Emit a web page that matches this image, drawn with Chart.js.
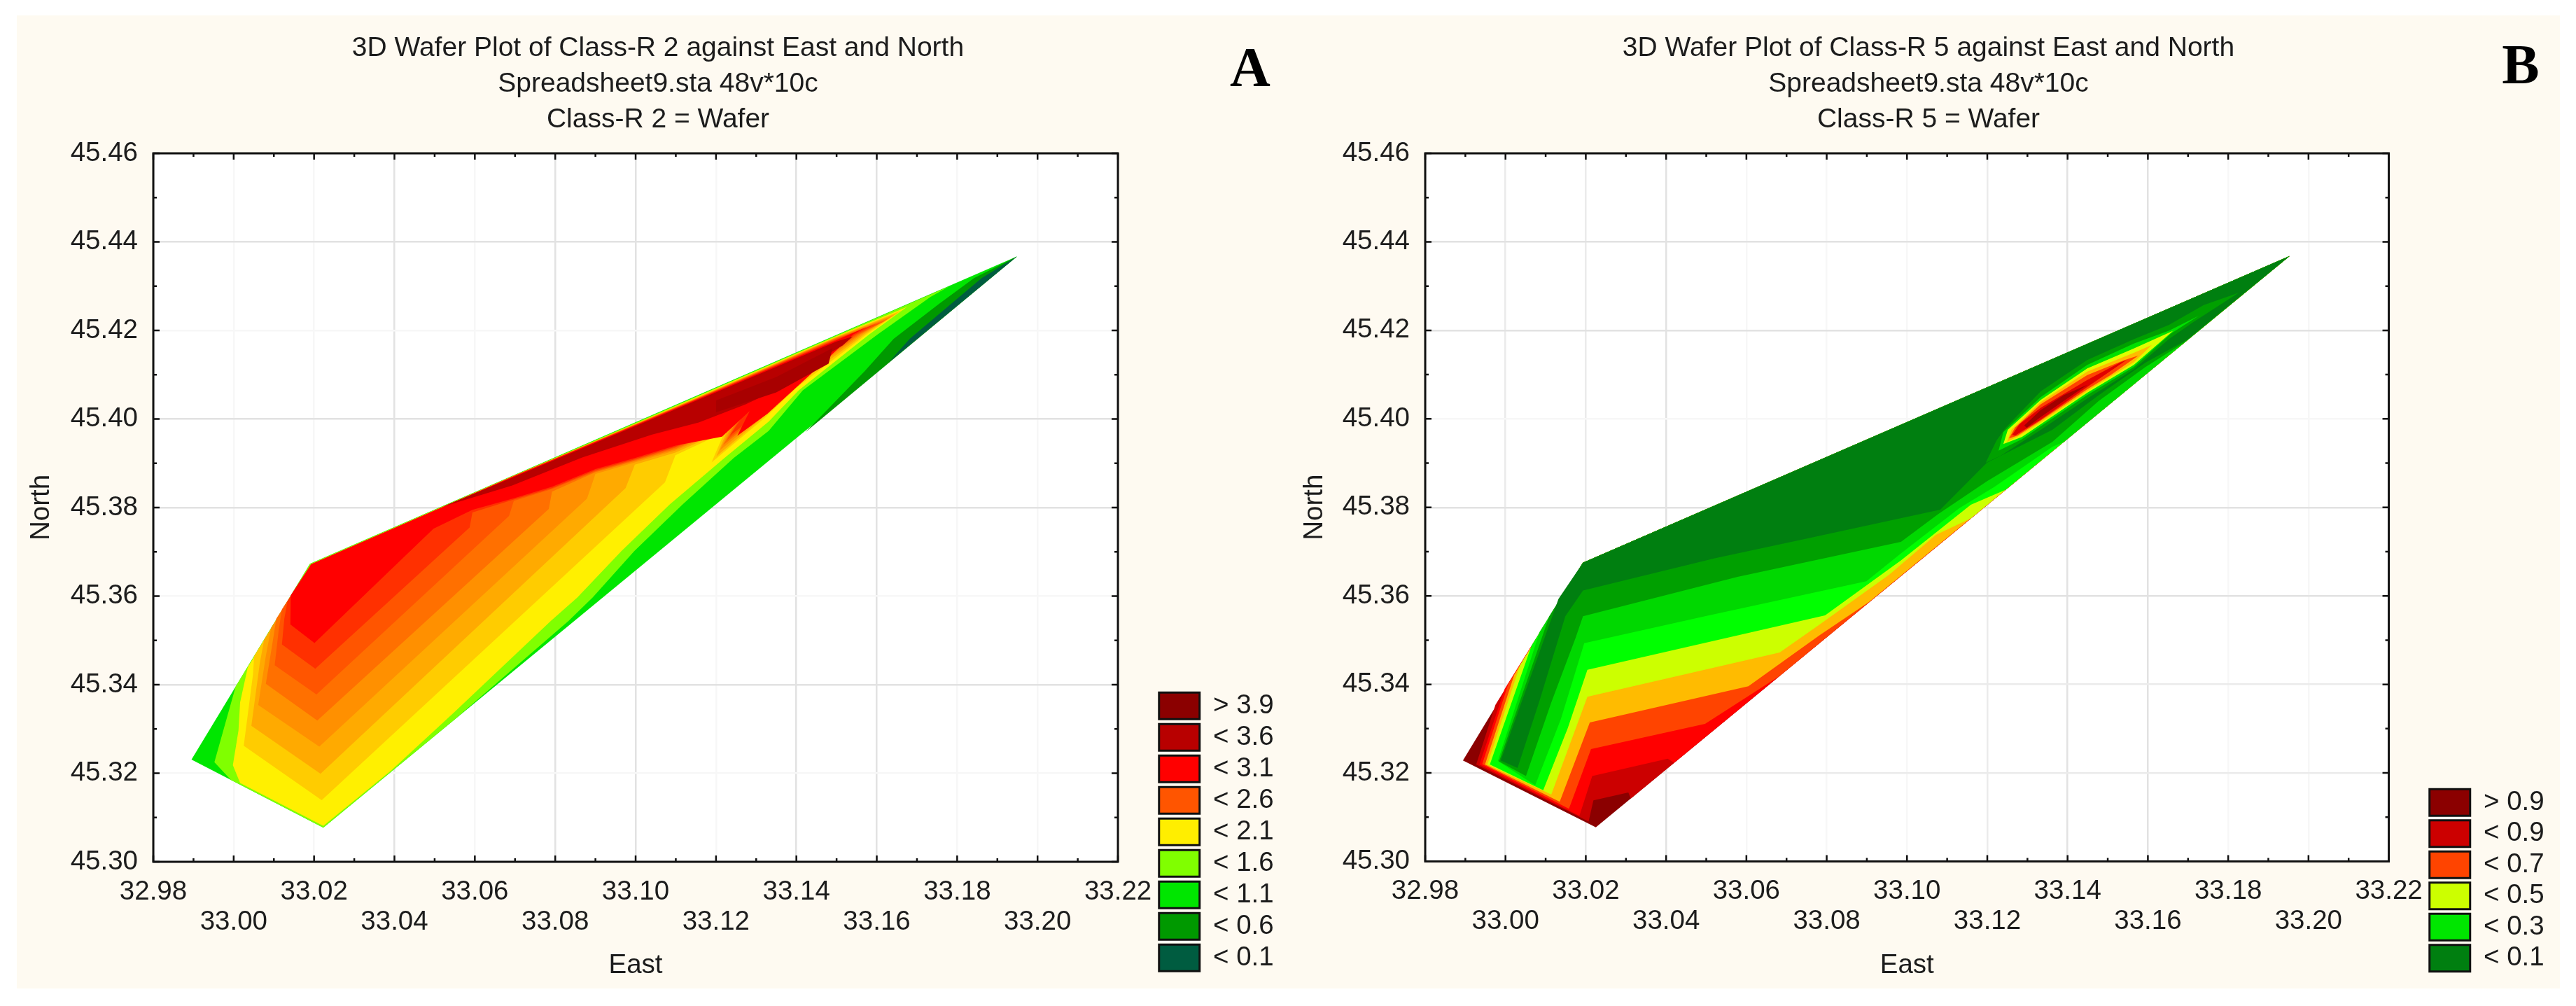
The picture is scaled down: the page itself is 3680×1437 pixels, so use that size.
<!DOCTYPE html>
<html><head><meta charset="utf-8">
<script src="https://cdn.jsdelivr.net/npm/chart.js@4"></script>
<style>
html,body{margin:0;padding:0;background:#fff;overflow:hidden;width:3680px;height:1437px}
#panel{position:absolute;left:24px;top:22px;width:3633px;height:1390px;background:#fefaf1}
canvas{position:absolute;top:0}
</style></head><body>
<div id="panel"></div>
<canvas id="a" width="1840" height="1437" style="left:0"></canvas>
<canvas id="b" width="1840" height="1437" style="left:1840px"></canvas>
<script>
// ---------- axes ----------
const xTickLabels=['32.98','33.00','33.02','33.04','33.06','33.08','33.10','33.12','33.14','33.16','33.18','33.20','33.22'];
const yTickLabels=['45.30','45.32','45.34','45.36','45.38','45.40','45.42','45.44','45.46'];
// ---------- legends ----------
const legendLabelsA=['> 3.9','< 3.6','< 3.1','< 2.6','< 2.1','< 1.6','< 1.1','< 0.6','< 0.1'];
const legendColorsA=['#8b0000','#b80000','#ff0000','#ff5500','#ffee00','#80ff00','#00e600','#009900','#005c40'];
const legendLabelsB=['> 0.9','< 0.9','< 0.7','< 0.5','< 0.3','< 0.1'];
const legendColorsB=['#8b0000','#cc0000','#ff4400','#ccff00','#00e600','#007f10'];
// ---------- panel A contour bands, East/North vertices, painted in order ----------
const a00=[[32.9895,45.3231],[33.0223,45.3077],[33.1949,45.4367],[33.0190,45.3673]];
const a01=[[33.1949,45.4367],[33.1422,45.3970],[33.1479,45.4023],[33.1569,45.4107],[33.1642,45.4181],[33.1755,45.4260],[33.1842,45.4318]];
const a02=[[33.1949,45.4367],[33.1630,45.4128],[33.1682,45.4181],[33.1785,45.4260],[33.1861,45.4318]];
const a03=[[32.9993,45.3185],[33.0223,45.3077],[33.0549,45.3321],[33.0833,45.3544],[33.0893,45.3597],[33.0997,45.3702],[33.1117,45.3807],[33.1244,45.3912],[33.1331,45.3973],[33.1416,45.4065],[33.1602,45.4191],[33.1734,45.4276],[33.1781,45.4300],[33.1500,45.4189],[33.1150,45.40505],[33.0190,45.3673],[33.0005,45.3396],[32.9952,45.3225]];
const a04=[[33.0016,45.3178],[33.0223,45.3081],[33.0393,45.3207],[33.0549,45.3338],[33.0789,45.3544],[33.0855,45.3597],[33.0965,45.3702],[33.1085,45.3807],[33.1221,45.3912],[33.1331,45.3994],[33.1406,45.4065],[33.1581,45.4191],[33.1675,45.4253],[33.1500,45.4187],[33.1150,45.4049],[33.0193,45.3671],[33.0035,45.3439],[33.0016,45.3360],[33.0012,45.3297],[32.9998,45.3218]];
const a05=[[33.0051,45.3465],[33.0048,45.3423],[33.0025,45.3262],[33.0219,45.3139],[33.1073,45.3857],[33.1099,45.3918],[33.1221,45.3970],[33.1189,45.3902],[33.1322,45.4003],[33.1401,45.4071],[33.1574,45.4191],[33.1663,45.4246],[33.1500,45.4186],[33.1150,45.4048],[33.0700,45.3873],[33.0193,45.3672]];
const a06=[[33.0076,45.3502],[33.0065,45.3449],[33.0044,45.3307],[33.0216,45.3199],[33.0975,45.3844],[33.0998,45.3897],[33.1099,45.3924],[33.1230,45.3978],[33.1201,45.3916],[33.1322,45.4008],[33.1394,45.4074],[33.1568,45.4191],[33.1652,45.4240],[33.1500,45.4185],[33.1150,45.4047],[33.0700,45.3873],[33.0193,45.3672]];
const a07=[[33.0093,45.3528],[33.0080,45.3465],[33.0061,45.3354],[33.0213,45.3260],[33.0879,45.3820],[33.0900,45.3876],[33.0998,45.3902],[33.1099,45.3929],[33.1239,45.3984],[33.1209,45.3929],[33.1322,45.4012],[33.1388,45.4077],[33.1562,45.4191],[33.1642,45.4234],[33.1500,45.4184],[33.1150,45.4046],[33.0700,45.3873],[33.0193,45.3672]];
const a08=[[33.0106,45.3549],[33.0097,45.3497],[33.0080,45.3402],[33.0208,45.3319],[33.0784,45.3797],[33.0792,45.3836],[33.0900,45.3880],[33.0998,45.3905],[33.1099,45.3932],[33.1248,45.3990],[33.1218,45.3941],[33.1322,45.4017],[33.1383,45.4080],[33.1557,45.4191],[33.1632,45.4228],[33.1500,45.4183],[33.1150,45.4045],[33.0700,45.3872],[33.0193,45.3672]];
const a09=[[33.0120,45.3570],[33.0112,45.3523],[33.0102,45.3444],[33.0206,45.3378],[33.0685,45.3781],[33.0697,45.3815],[33.0792,45.3842],[33.0900,45.3882],[33.0998,45.3907],[33.1099,45.3935],[33.1255,45.3995],[33.1227,45.3952],[33.1322,45.4020],[33.1378,45.4084],[33.1552,45.4191],[33.1622,45.4222],[33.1500,45.4182],[33.1150,45.4045],[33.0700,45.3872],[33.0193,45.3672]];
const a10=[[33.0134,45.3589],[33.0126,45.3549],[33.0120,45.3491],[33.0203,45.3436],[33.0587,45.3755],[33.0594,45.3789],[33.0697,45.3818],[33.0792,45.3844],[33.0900,45.3884],[33.0998,45.3909],[33.1099,45.3937],[33.1262,45.4000],[33.1234,45.3962],[33.1322,45.4024],[33.1373,45.4087],[33.1547,45.4191],[33.1600,45.4216],[33.1500,45.4180],[33.1150,45.4044],[33.0700,45.3872],[33.0193,45.3672]];
const a11=[[33.0142,45.3602],[33.0141,45.3536],[33.0201,45.3494],[33.0497,45.3752],[33.0594,45.3795],[33.0697,45.3821],[33.0792,45.3847],[33.0900,45.3887],[33.0998,45.3912],[33.1099,45.3940],[33.1215,45.3960],[33.1284,45.4018],[33.1253,45.3962],[33.1328,45.4012],[33.1462,45.4123],[33.1541,45.4191],[33.1575,45.4208],[33.1500,45.4178],[33.1150,45.4043],[33.0700,45.3872],[33.0193,45.3672]];
const a12=[[33.0520,45.3802],[33.0693,45.3850],[33.0867,45.3913],[33.1041,45.3965],[33.1157,45.3992],[33.1273,45.4033],[33.1348,45.4065],[33.1435,45.4123],[33.1515,45.4166],[33.1540,45.4186],[33.1500,45.4175],[33.1150,45.4041],[33.0700,45.3870]];
const a13=[[33.1200,45.4015],[33.1350,45.4060],[33.1480,45.4125],[33.1490,45.4160],[33.1350,45.4095],[33.1200,45.4042]];
const bandColorsA=['#00e600','#009900','#005c40','#80ff00','#fff000','#ffcc00','#ffaa00','#ff9000','#ff7000','#ff5500','#ff3000','#ff0000','#b80000','#a80000'];
// ---------- panel B contour bands ----------
const b00=[[32.9894,45.3228],[33.0225,45.3077],[33.1953,45.4368],[33.0193,45.3675]];
const b01=[[32.9975,45.3354],[32.9927,45.3219],[33.0207,45.3090],[33.0219,45.3138],[33.0306,45.3156],[33.0312,45.3142],[33.1953,45.4368],[33.0193,45.3675]];
const b02=[[32.9998,45.3390],[32.9935,45.3219],[33.0184,45.3103],[33.0216,45.3193],[33.0404,45.3232],[33.0420,45.3223],[33.1953,45.4368],[33.0193,45.3675]];
const b03=[[33.0007,45.3401],[32.9942,45.3220],[33.0158,45.3119],[33.0213,45.3254],[33.0497,45.3311],[33.0683,45.3419],[33.1953,45.4368],[33.0193,45.3675]];
const b04=[[33.0022,45.3422],[32.9949,45.3219],[33.0135,45.3135],[33.0210,45.3314],[33.0605,45.3396],[33.0782,45.3511],[33.0905,45.3586],[33.1953,45.4368],[33.0193,45.3675]];
const b05=[[33.0036,45.3443],[32.9955,45.3219],[33.0114,45.3151],[33.0204,45.3372],[33.0683,45.3472],[33.0782,45.3535],[33.0956,45.3648],[33.1072,45.3738],[33.1159,45.3775],[33.1953,45.4368],[33.0193,45.3675]];
const b06=[[33.0065,45.3488],[32.9961,45.3219],[33.0094,45.3161],[33.0155,45.3301],[33.0204,45.3433],[33.0796,45.3556],[33.0985,45.3680],[33.1159,45.3806],[33.1246,45.3840],[33.1953,45.4368],[33.0193,45.3675]];
const b07=[[33.0085,45.3519],[32.9981,45.3227],[33.0074,45.3172],[33.0138,45.3322],[33.0190,45.3475],[33.0196,45.3493],[33.0497,45.3554],[33.0899,45.3633],[33.0985,45.3696],[33.1130,45.3798],[33.1217,45.3846],[33.1362,45.3937],[33.1391,45.3948],[33.1953,45.4368],[33.0193,45.3675]];
const b08=[[33.0109,45.3554],[32.9984,45.3226],[33.0051,45.3193],[33.0114,45.3359],[33.0175,45.3506],[33.0193,45.3554],[33.0578,45.3643],[33.0985,45.3722],[33.1078,45.3785],[33.1199,45.3859],[33.1362,45.3948],[33.1478,45.4041],[33.1594,45.4117],[33.1690,45.4172],[33.1953,45.4368],[33.0193,45.3675]];
const b09=[[33.0132,45.3593],[32.9988,45.3228],[33.0030,45.3211],[33.0085,45.3364],[33.0149,45.3554],[33.0193,45.3612],[33.0521,45.3685],[33.0753,45.3730],[33.1083,45.3795],[33.1199,45.3901],[33.1362,45.3975],[33.1478,45.4054],[33.1594,45.4127],[33.1700,45.4180],[33.1953,45.4368],[33.0193,45.3675]];
const b10=[[33.1196,45.3901],[33.1223,45.3951],[33.1246,45.3980],[33.1333,45.4062],[33.1449,45.4133],[33.1565,45.4180],[33.1652,45.4212],[33.1739,45.4257],[33.1826,45.4285],[33.1710,45.4217],[33.1652,45.4180],[33.1565,45.4112],[33.1449,45.4046],[33.1333,45.3975],[33.1234,45.3917]];
const b11=[[33.1228,45.3928],[33.1240,45.3970],[33.1333,45.4049],[33.1449,45.4122],[33.1565,45.4170],[33.1652,45.4199],[33.1727,45.4233],[33.1658,45.4193],[33.1565,45.4117],[33.1449,45.4054],[33.1333,45.3983],[33.1286,45.3954]];
const b12=[[33.1240,45.3943],[33.1251,45.3975],[33.1333,45.4043],[33.1449,45.4114],[33.1565,45.4159],[33.1663,45.4199],[33.1565,45.4122],[33.1449,45.4059],[33.1333,45.3988],[33.1286,45.3959]];
const b13=[[33.1249,45.3948],[33.1260,45.3975],[33.1333,45.4038],[33.1449,45.4107],[33.1565,45.4149],[33.1610,45.4167],[33.1565,45.4128],[33.1449,45.4063],[33.1333,45.3992],[33.1280,45.3962]];
const b14=[[33.1254,45.3956],[33.1269,45.3980],[33.1333,45.4033],[33.1449,45.4099],[33.1542,45.4133],[33.1576,45.4143],[33.1507,45.4099],[33.1449,45.4067],[33.1333,45.3996],[33.1275,45.3962]];
const b15=[[33.1262,45.3964],[33.1280,45.3988],[33.1333,45.4025],[33.1449,45.4088],[33.1530,45.4127],[33.1547,45.4133],[33.1449,45.4072],[33.1333,45.3998],[33.1269,45.3962]];
const b16=[[33.1292,45.3985],[33.1333,45.4020],[33.1391,45.4054],[33.1449,45.4077],[33.1391,45.4041],[33.1333,45.4004],[33.1298,45.3980]];
const bandColorsB=['#8b0000','#cc0000','#ff0000','#ff4400','#ffbb00','#ccff00','#00ff00','#00d800','#00a000','#007f10','#00a000','#00e000','#ddff00','#ffbb00','#ff4400','#e00000','#a00000'];

const titleA=['3D Wafer Plot of Class-R 2 against East and North','Spreadsheet9.sta 48v*10c','Class-R 2 = Wafer'];
const titleB=['3D Wafer Plot of Class-R 5 against East and North','Spreadsheet9.sta 48v*10c','Class-R 5 = Wafer'];
const xName='East', yName='North';

// ---------- grid line shades per tick (the source scan shows them unevenly) ----------
const G1='#e2e2e2',G2='#ebebeb',G3='#f7f7f7';
const gridXA=[G1,G3,G3,G1,G3,G1,G1,G3,G1,G1,G3,G3,G1];
const gridYA=[G1,G3,G1,G3,G1,G1,G3,G1,G1];
const gridXB=[G1,G2,G2,G1,G3,G3,G3,G2,G1,G1,G3,G3,G1];
const gridYB=[G1,G2,G2,G1,G1,G3,G1,G1,G1];

// ---------- shared rendering ----------
const FONT='"Liberation Sans", Arial, sans-serif', INK='#1c1c1c', TICK=38.5;
Chart.defaults.font.family=FONT; Chart.defaults.color=INK;

const framePlugin={
  id:'frame',
  beforeDraw(c){const a=c.chartArea,g=c.ctx;g.save();g.fillStyle='#fff';g.fillRect(a.left,a.top,a.width,a.height);g.restore();},
  afterDraw(c,_,o){
    const a=c.chartArea,g=c.ctx,X=c.scales.x,Y=c.scales.y;
    g.save();g.strokeStyle='#111';g.lineCap='butt';
    g.lineWidth=2.5;
    for(let i=0;i<=24;i++){const p=X.getPixelForValue(32.98+i*0.01),l=i%2?5:9;
      g.beginPath();g.moveTo(p,a.bottom);g.lineTo(p,a.bottom-l);g.moveTo(p,a.top);g.lineTo(p,a.top+l);g.stroke();}
    for(let i=0;i<=16;i++){const p=Y.getPixelForValue(45.30+i*0.01),l=i%2?5:9;
      g.beginPath();g.moveTo(a.left,p);g.lineTo(a.left+l,p);g.moveTo(a.right,p);g.lineTo(a.right-l,p);g.stroke();}
    g.lineWidth=3;g.strokeRect(a.left,a.top,a.width,a.height);
    g.fillStyle='#000';g.font='bold 80px "Liberation Serif", serif';g.textAlign='center';g.textBaseline='alphabetic';
    g.fillText(o.letter,o.lx,o.ly);
    g.restore();
  }
};
function makeChart(id,cfg){
  const datasets=cfg.bands.map((pts,i)=>({
    label:'band '+i,data:pts.map(p=>({x:p[0],y:p[1]})),showLine:true,fill:'shape',tension:0,
    backgroundColor:cfg.colors[i],borderWidth:0,borderColor:'transparent',pointRadius:0,pointHoverRadius:0,order:-i,xAxisID:'x',yAxisID:'y'
  }));
  return new Chart(document.getElementById(id),{
    type:'scatter',data:{datasets},plugins:[framePlugin],
    options:{
      responsive:false,animation:false,devicePixelRatio:1,events:[],
      layout:{padding:{left:cfg.padL,right:cfg.padR,top:0,bottom:43}},
      plugins:{
        frame:{letter:cfg.letter,lx:cfg.lx,ly:cfg.ly},
        tooltip:{enabled:false},
        title:{display:true,text:cfg.title,color:INK,font:{size:39,weight:'normal',lineHeight:51/39},padding:{top:43.5,bottom:22.5}},
        legend:{display:true,position:'right',align:'end',
          labels:{boxWidth:58,boxHeight:38,padding:cfg.legPad,color:INK,font:{size:TICK},
            generateLabels:()=>cfg.legLabels.map((t,i)=>({text:t,fillStyle:cfg.legColors[i],strokeStyle:'#111',lineWidth:3,hidden:false,fontColor:INK}))}}
      },
      scales:{
        x:{type:'linear',position:'bottom',min:32.98,max:33.22,
          afterFit(s){s.height=cfg.xH;},
          grid:{color:ctx=>cfg.gridX[ctx.index],lineWidth:2.5,drawTicks:false},border:{display:false},
          ticks:{stepSize:0.02,autoSkip:false,maxRotation:0,minRotation:0,padding:21.5,color:INK,font:{size:TICK,lineHeight:43/TICK},
            callback:(v,i)=>i%2?['',xTickLabels[i]]:[xTickLabels[i],'']},
          title:{display:true,text:xName,color:INK,font:{size:TICK},padding:{top:0,bottom:-8}}},
        y:{type:'linear',position:'left',min:45.30,max:45.46,
          afterFit(s){s.width=cfg.yW;},
          grid:{color:ctx=>cfg.gridY[ctx.index],lineWidth:2.5,drawTicks:false},border:{display:false},
          ticks:{stepSize:0.02,autoSkip:false,padding:22,color:INK,font:{size:TICK},callback:(v,i)=>yTickLabels[i]},
          title:{display:true,text:yName,color:INK,font:{size:TICK},padding:{top:cfg.yTitlePad,bottom:0}}},
        gap:{type:'linear',position:'right',axis:'y',min:45.30,max:45.46,
          afterFit(s){s.width=52.2;},
          grid:{display:false,drawTicks:false},border:{display:false},ticks:{display:false}}
      }
    }
  });
}
makeChart('a',{bands:[a00,a01,a02,a03,a04,a05,a06,a07,a08,a09,a10,a11,a12,a13],colors:bandColorsA,gridX:gridXA,gridY:gridYA,
  title:titleA,letter:'A',lx:1786,ly:123,padL:50.3,padR:10.3,yW:168.7,xH:163,yTitlePad:-14.3,legPad:6.5,legLabels:legendLabelsA,legColors:legendColorsA});
makeChart('b',{bands:[b00,b01,b02,b03,b04,b05,b06,b07,b08,b09,b10,b11,b12,b13,b14,b15,b16],colors:bandColorsB,gridX:gridXB,gridY:gridYB,
  title:titleB,letter:'B',lx:1761,ly:119,padL:25.3,padR:35.3,yW:170.7,xH:163.5,yTitlePad:-10.3,legPad:6,legLabels:legendLabelsB,legColors:legendColorsB});
</script>
</body></html>
